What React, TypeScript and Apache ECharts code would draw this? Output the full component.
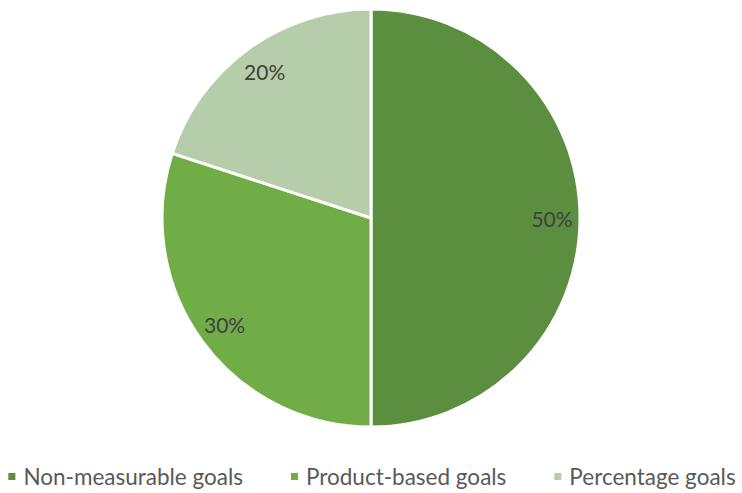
import React, { useEffect, useRef } from "react";
import * as echarts from "echarts";

const categories = ["Non-measurable goals", "Product-based goals", "Percentage goals"];
const values = [50, 30, 20];
const colors = ["#5B8F3F", "#70AD47", "#B5CEA9"];

export default function App() {
  const ref = useRef<HTMLDivElement>(null);
  useEffect(() => {
    document.body.style.margin = "0";
    const chart = echarts.init(ref.current!, null, { renderer: "svg" });
    const data = categories.map((name, i) => ({ name, value: values[i], itemStyle: { color: colors[i] } }));
    chart.setOption({
      animation: false,
      legend: {
        bottom: 0,
        left: "center",
        icon: "rect",
        itemWidth: 9,
        itemHeight: 9,
        itemGap: 46,
        textStyle: { fontFamily: "Lato", fontSize: 22.5, color: "#595959", padding: [0, 0, 0, 2] },
        data: categories,
      },
      series: [
        {
          type: "pie",
          center: [371, 218],
          radius: [0, 209],
          startAngle: 90,
          clockwise: true,
          silent: true,
          label: { show: false },
          labelLine: { show: false },
          itemStyle: { borderColor: "#ffffff", borderWidth: 3 },
          data,
        },
        {
          type: "pie",
          center: [371, 218],
          radius: [150, 206],
          startAngle: 90,
          clockwise: true,
          silent: true,
          legendHoverLink: false,
          itemStyle: { color: "rgba(0,0,0,0)" },
          label: {
            show: true,
            position: "inside",
            formatter: (p: any) => p.value + "%",
            fontFamily: "Lato",
            fontSize: 21,
            color: "#404040",
          },
          labelLine: { show: false },
          data: categories.map((name, i) => ({ name: name + " ", value: values[i] })),
        },
      ],
    });
    return () => chart.dispose();
  }, []);
  return <div ref={ref} style={{ width: 742, height: 493 }} />;
}
